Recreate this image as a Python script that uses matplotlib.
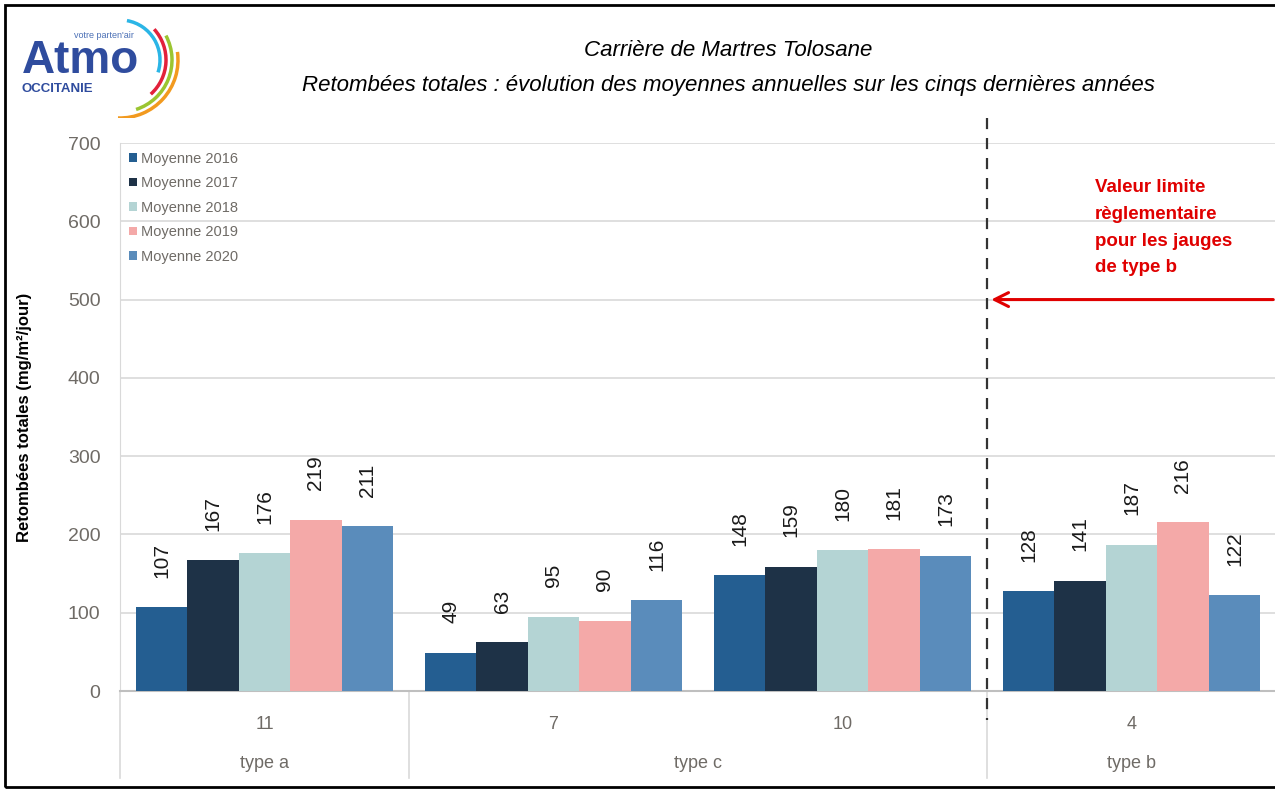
import numpy as np
import matplotlib
matplotlib.use("Agg")
import matplotlib.pyplot as plt
from matplotlib import font_manager
from matplotlib.patches import Arc, Rectangle
from matplotlib.transforms import blended_transform_factory

plt.rcParams['font.family'] = ['Liberation Sans', 'DejaVu Sans']

# données
jauges = ['11', '7', '10', '4']
types = ['type a', 'type c', 'type b']
types_pos = [0, 1.5, 3]
series = ['Moyenne 2016', 'Moyenne 2017', 'Moyenne 2018', 'Moyenne 2019', 'Moyenne 2020']
moy_2016 = [107, 49, 148, 128]
moy_2017 = [167, 63, 159, 141]
moy_2018 = [176, 95, 180, 187]
moy_2019 = [219, 90, 181, 216]
moy_2020 = [211, 116, 173, 122]
valeur_limite = 500
couleurs = ['#245e91', '#1e3247', '#b4d4d4', '#f4a9a8', '#5a8cbb']

# police étroite (Arial Narrow) si dispo
noms = {f.name for f in font_manager.fontManager.ttflist}
if 'Liberation Sans Narrow' in noms:
    etroit = ['Liberation Sans Narrow', 'DejaVu Sans']
    fs_ytick, fs_bar, fs_leg, fs_xtick = 17, 18, 12, 15
else:
    etroit = ['Liberation Sans', 'DejaVu Sans']
    fs_ytick, fs_bar, fs_leg, fs_xtick = 14, 15, 10.5, 13
gris = '#6f6b66'

W, H = 1275, 789
fig = plt.figure(figsize=(W / 100, H / 100), dpi=100)
ax = fig.add_axes([120 / W, 1 - 691 / H, 1156 / W, 548 / H])

x = np.arange(len(jauges))
w = 0.178
for i, vals in enumerate([moy_2016, moy_2017, moy_2018, moy_2019, moy_2020]):
    bars = ax.bar(x + (i - 2) * w, vals, w, color=couleurs[i], label=series[i], zorder=3)
    ax.bar_label(bars, rotation=90, padding=21, fontsize=fs_bar, color='#1a1a1a', family=etroit)

ax.set_xlim(-0.5, 3.5)
ax.set_ylim(0, 700)
ax.set_yticks(range(0, 701, 100))
ax.grid(axis='y', color='#d9d9d9', lw=1.2, zorder=0)
ax.tick_params(axis='y', length=0, pad=14, labelsize=fs_ytick, labelcolor=gris)
ax.set_xticks(x)
ax.set_xticklabels(jauges)
ax.tick_params(axis='x', length=0, pad=18, labelsize=fs_xtick, labelcolor=gris)
for t in ax.get_xticklabels() + ax.get_yticklabels():
    t.set_family(etroit)
for s in ['top', 'right']:
    ax.spines[s].set_visible(False)
ax.spines['left'].set_color('#d9d9d9')
ax.spines['bottom'].set_color('#bfbfbf')
ax.spines['bottom'].set_linewidth(1.5)

ax.set_ylabel('Retombées totales (mg/m²/jour)', fontsize=12, fontweight='bold')
ax.yaxis.set_label_coords(-0.076, 0.5)

# axe des catégories à deux niveaux
tr = blended_transform_factory(ax.transData, ax.transAxes)
for xs in [-0.5, 0.5, 2.5, 3.5]:
    ax.plot([xs, xs], [0, -0.159], transform=tr, color='#d9d9d9', lw=1.2, clip_on=False)
for lab, p in zip(types, types_pos):
    ax.text(p, -0.132, lab, transform=tr, ha='center', va='center', fontsize=fs_xtick,
            color=gris, family=etroit)

# séparation type b + valeur limite
ax.plot([2.5, 2.5], [732, -37], color='#333333', lw=1.6, ls=(0, (5, 4)), clip_on=False, zorder=4)
ax.annotate('', xy=(2.505, valeur_limite), xytext=(3.5, valeur_limite),
            arrowprops=dict(arrowstyle='->', color='#e00000', lw=2.2, mutation_scale=25),
            annotation_clip=False)
ax.text(2.874, 654, 'Valeur limite\nrèglementaire\npour les jauges\nde type b', color='#e00000',
        fontsize=13.5, fontweight='bold', ha='left', va='top', linespacing=1.75)

leg = ax.legend(loc='upper left', bbox_to_anchor=(0.0, 1.0), frameon=False,
                prop={'family': etroit, 'size': fs_leg},
                handlelength=0.55, handleheight=0.55, handletextpad=0.3, labelspacing=0.72,
                borderaxespad=0.2)
for t in leg.get_texts():
    t.set_color(gris)

# titre
fig.text(728 / W, 1 - 50 / H, 'Carrière de Martres Tolosane', ha='center', va='center',
         fontsize=16, style='italic')
fig.text(728 / W, 1 - 85 / H,
         'Retombées totales : évolution des moyennes annuelles sur les cinqs dernières années',
         ha='center', va='center', fontsize=16, style='italic')

# logo
lg = fig.add_axes([12 / W, 1 - 118 / H, 175 / W, 110 / H])
lg.set_xlim(0, 175)
lg.set_ylim(0, 110)
lg.axis('off')
lg.text(10, 45, 'Atmo', fontsize=33, fontweight='bold', color='#2f4c9e', va='baseline')
lg.text(62, 80, "votre parten'air", fontsize=6.5, color='#4a6fb5', va='baseline')
lg.text(10, 26, 'OCCITANIE', fontsize=9.5, fontweight='bold', color='#2f4c9e', va='baseline')
for r, c, a1, a2 in [(40, '#2bb5e6', -18, 80), (46, '#e2213b', -48, 42),
                     (52, '#9bc531', -72, 28), (58, '#f29a1f', -92, 8)]:
    lg.add_patch(Arc((108, 58), 2 * r, 2 * r, theta1=a1, theta2=a2, color=c, lw=2.5))

# cadre
fig.add_artist(Rectangle((5 / W, 2 / H), 1.1, 1 - 7 / H, transform=fig.transFigure,
                         fill=False, edgecolor='black', lw=2))

fig.savefig('out.png', dpi=100)
